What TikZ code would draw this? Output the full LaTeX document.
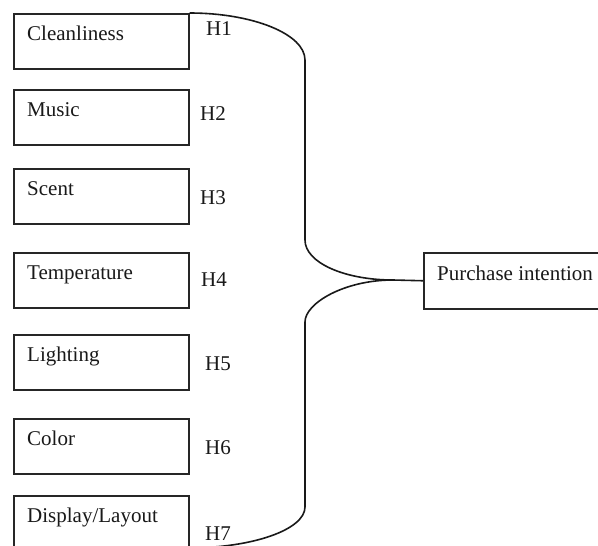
\documentclass[tikz,border=0pt]{standalone}
\usepackage{fontspec}
\setmainfont{Liberation Serif}
\begin{document}
\begin{tikzpicture}[x=1pt,y=-1pt,
  fbox/.style={draw=black!85, line width=1.5pt, minimum width=175pt, minimum height=55pt, anchor=north west, inner sep=0pt},
  ftext/.style={anchor=base west, inner sep=0pt, font=\fontsize{21}{25}\selectfont, text=black!90},
  brace/.style={draw=black!90, line width=1.6pt}]
\useasboundingbox[fill=white] (0,0) rectangle (598,546);
% factor boxes
\node[fbox] (c1) at (13,13) {};
\node[fbox] (c2) at (13,89) {};
\node[fbox] (c3) at (13,168) {};
\node[fbox] (c4) at (13,252) {};
\node[fbox] (c5) at (13,334) {};
\node[fbox] (c6) at (13,418) {};
\node[fbox, minimum height=70pt] (c7) at (13,495) {};
\node[ftext] (t1) at (27,40) {Cleanliness};
\node[ftext] (t2) at (27,116) {Music};
\node[ftext] (t3) at (27,195) {Scent};
\node[ftext] (t4) at (27,279) {Temperature};
\node[ftext] (t5) at (27,361) {Lighting};
\node[ftext] (t6) at (27,445) {Color};
\node[ftext] (t7) at (27,522) {Display/Layout};
% hypothesis labels
\node[ftext] (h1) at (206,35.7) {H1};
\node[ftext] (h2) at (200,120) {H2};
\node[ftext] (h3) at (200,204) {H3};
\node[ftext] (h4) at (201,286) {H4};
\node[ftext] (h5) at (205,370) {H5};
\node[ftext] (h6) at (205,454) {H6};
\node[ftext] (h7) at (205,540) {H7};
% outcome box
\node[fbox, minimum width=190pt, minimum height=56pt] (pi) at (423,252) {};
\node[ftext] (tp) at (437,280) {Purchase intention};
% brace
\coordinate (j) at (393,280);
\coordinate (e7) at (188,548);
\draw[brace] (c1.north east) .. controls (252.6,13) and (305,34) .. (305,60)
  -- (305,240) .. controls (305,262.6) and (344.4,280) .. (j) -- (pi.west);
\draw[brace] (j) .. controls (344.4,280) and (305,303.2) .. (305,322)
  -- (305,507) .. controls (305,529.6) and (252.6,548) .. (e7);
\end{tikzpicture}
\end{document}
